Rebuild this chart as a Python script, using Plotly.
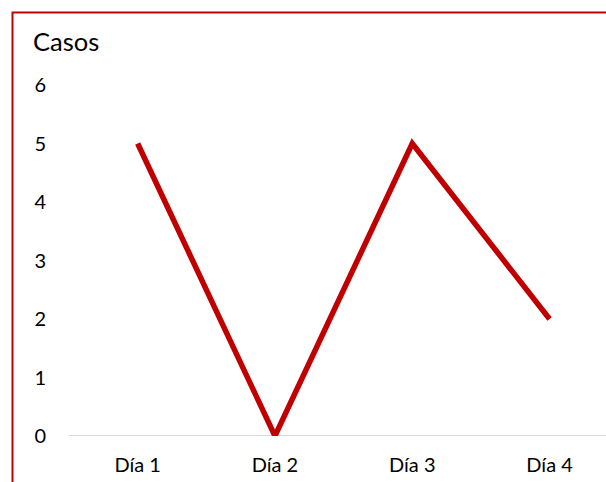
import plotly.graph_objects as go

categories = ["Día 1", "Día 2", "Día 3", "Día 4"]
casos = [5, 0, 5, 2]
y_ticks = [0, 1, 2, 3, 4, 5, 6]

FONT = "Lato"

fig = go.Figure()
fig.add_trace(go.Scatter(
    x=categories, y=casos, mode="lines",
    line=dict(color="#C00000", width=5.5),
    hoverinfo="skip",
))

fig.update_layout(
    width=606, height=482,
    margin=dict(l=69, r=0, t=85, b=46),
    paper_bgcolor="white", plot_bgcolor="white",
    showlegend=False,
    font=dict(family=FONT, size=20, color="black"),
    title=dict(text="Casos", x=33/606, xref="container", xanchor="left",
               y=1 - 42/482, yref="container", yanchor="middle",
               font=dict(family=FONT, size=25.5, color="black")),
    xaxis=dict(type="category", range=[-0.5, 3.411], showgrid=False,
               showline=False, zeroline=False, ticks="", ticklabelstandoff=15,
               tickfont=dict(size=20)),
    yaxis=dict(range=[0, 6], tickvals=y_ticks, showgrid=False,
               zeroline=False, showline=False, ticks="", ticklabelstandoff=22,
               tickfont=dict(size=20)),
    shapes=[
        dict(type="line", xref="paper", yref="y", x0=0, x1=1, y0=0, y1=0,
             line=dict(color="#D9D9D9", width=2), layer="below"),
        dict(type="rect", xref="paper", yref="paper",
             x0=(12.5 - 69) / 537, x1=1.2, y0=-0.5, y1=(436 - 12.5) / 351,
             line=dict(color="#C00000", width=2), fillcolor="rgba(0,0,0,0)"),
    ],
)

fig.write_html("out.html")
